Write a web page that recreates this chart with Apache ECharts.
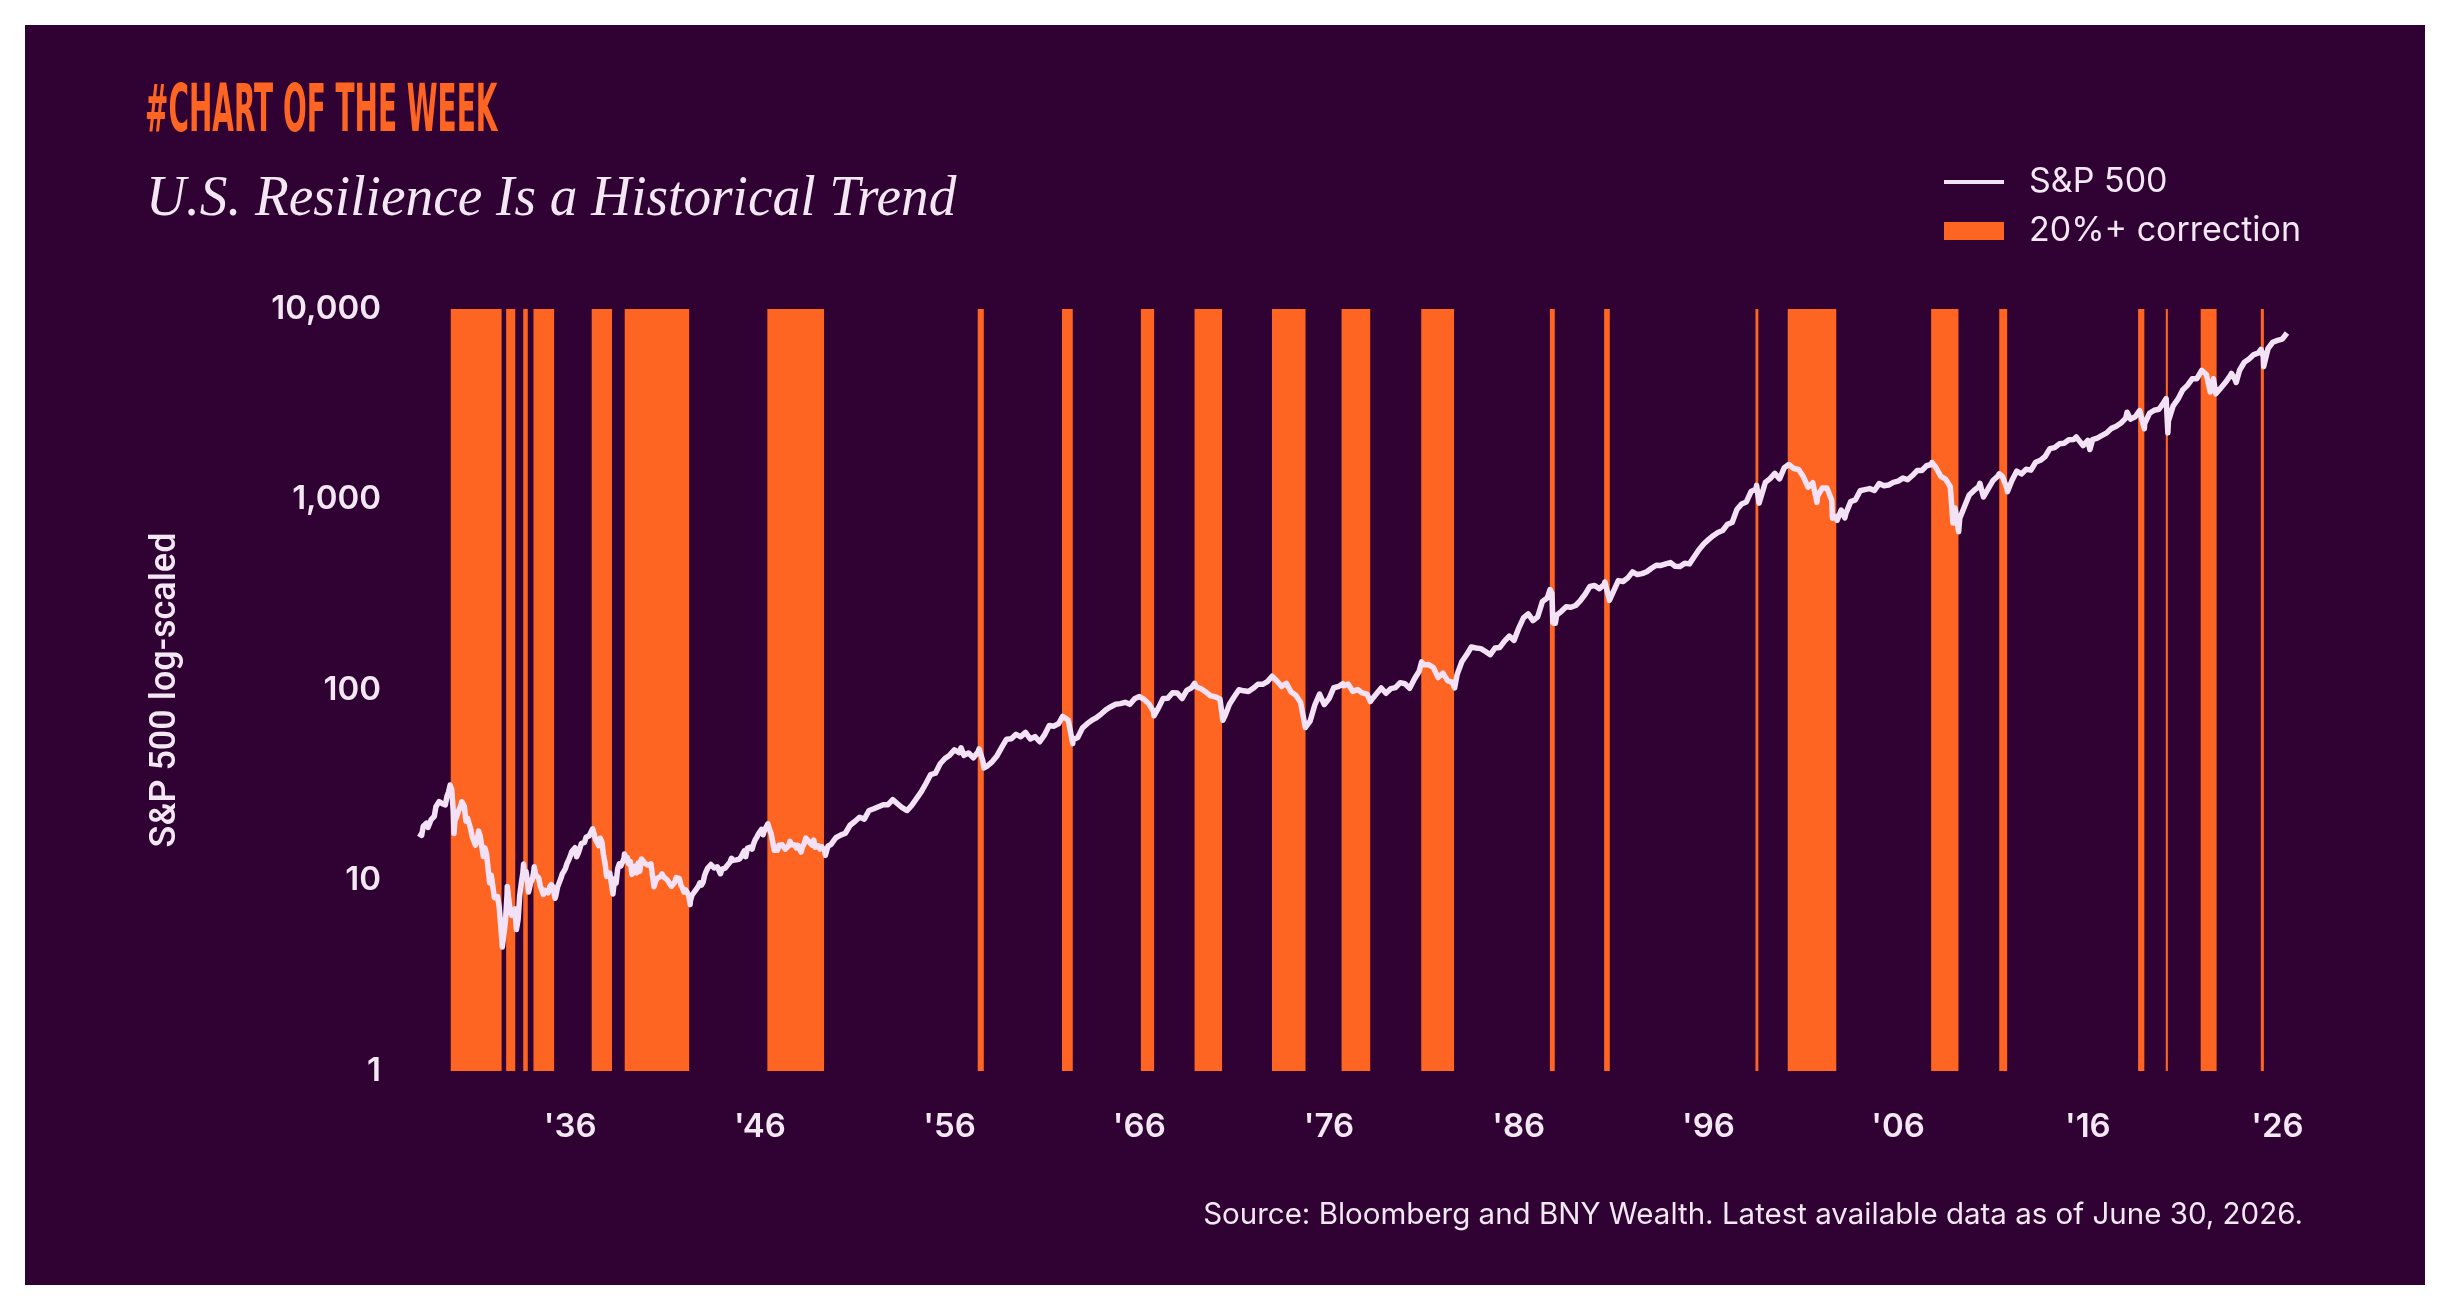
<!DOCTYPE html>
<html>
<head>
<meta charset="utf-8">
<title>U.S. Resilience Is a Historical Trend</title>
<script src="https://cdn.jsdelivr.net/npm/echarts@6/dist/echarts.min.js"></script>
<style>
  html, body { margin: 0; padding: 0; background: #ffffff; }
  #chart { position: absolute; left: 25px; top: 25px; width: 2400px; height: 1260px; }
</style>
</head>
<body>
<div id="chart"></div>
<script>
// S&P 500 level, first close (end of Dec 1927)
const spxStart = [1928.0, 17.66];

// month-end closes, Jan 1928 .. Dec 1938
const spxMonthly1928to1938 = [
  17.57, 17.26, 19.28, 19.75, 20.00, 19.00, 19.40, 20.88, 21.21, 21.74, 24.37, 24.35,
  25.94, 25.72, 25.33, 25.90, 24.96, 27.70, 29.17, 31.71, 30.00, 23.02, 20.60, 21.45,
  22.83, 23.25, 25.14, 25.46, 24.49, 20.46, 21.21, 21.00, 18.63, 16.91, 16.62, 15.34,
  16.14, 18.17, 17.16, 15.09, 13.35, 14.83, 13.84, 13.88, 9.71, 10.66, 9.30, 8.12,
  8.30, 8.23, 7.31, 5.83, 4.47, 4.43, 6.10, 8.39, 8.08, 6.92, 6.56, 6.89,
  7.09, 5.66, 6.23, 8.32, 9.64, 10.91, 10.39, 11.15, 9.83, 8.96, 9.78, 10.10,
  11.32, 10.74, 10.67, 10.32, 9.37, 9.47, 8.44, 8.88, 8.85, 8.61, 9.25, 9.50,
  9.26, 9.07, 8.41, 9.27, 9.37, 10.23, 10.86, 11.18, 11.61, 12.33, 12.80, 13.43,
  14.21, 14.55, 14.86, 13.31, 13.88, 14.68, 15.63, 15.77, 15.85, 16.86, 17.04, 17.18,
  17.87, 18.10, 17.64, 16.36, 16.11, 15.23, 16.66, 15.90, 13.62, 12.34, 10.50, 10.55,
  10.94, 11.15, 8.50, 10.20, 9.69, 11.56, 12.24, 11.92, 12.07, 13.07, 12.72, 13.21
];

// month-end closes, Jan 1939 .. Dec 1949
const spxMonthly1939to1949 = [
  12.22, 12.59, 10.77, 11.12, 11.88, 10.96, 12.35, 11.19, 12.98, 12.91, 12.35, 12.49,
  12.05, 12.22, 12.22, 12.29, 9.27, 9.94, 10.27, 10.41, 10.49, 10.84, 10.45, 10.58,
  10.14, 9.89, 9.95, 9.32, 9.37, 9.76, 10.37, 10.33, 10.24, 9.45, 9.12, 8.69,
  8.93, 8.65, 8.27, 7.84, 8.37, 8.60, 8.83, 8.90, 9.31, 9.73, 9.47, 9.77,
  10.64, 11.18, 11.63, 11.57, 12.14, 12.33, 11.63, 11.71, 11.81, 11.68, 10.85, 11.48,
  11.68, 11.62, 11.91, 11.70, 12.46, 13.09, 12.75, 12.86, 12.83, 12.88, 12.96, 13.28,
  13.49, 14.30, 13.34, 14.74, 14.92, 14.98, 14.61, 15.59, 16.37, 16.87, 17.55, 17.36,
  18.56, 17.38, 18.47, 19.11, 19.85, 18.59, 17.69, 16.09, 14.43, 14.33, 14.40, 15.30,
  15.66, 15.41, 15.17, 14.60, 14.51, 15.21, 16.05, 15.40, 15.07, 15.35, 14.85, 15.30,
  14.63, 14.10, 15.11, 15.63, 16.71, 16.70, 16.01, 16.01, 15.31, 16.31, 14.97, 15.20,
  15.20, 14.62, 15.06, 14.73, 14.29, 14.15, 15.14, 15.27, 15.49, 15.90, 16.32, 16.76
];

// quarter-end closes, Q1 1950 .. Q4 1987
const spxQuarterly1950to1987 = [
  17.3, 17.7, 19.5, 20.4,   21.5, 21.0, 23.3, 23.8,   24.4, 25.0, 25.0, 26.6,
  25.3, 24.1, 23.3, 24.8,   26.9, 29.2, 32.3, 36.0,   36.6, 41.0, 43.7, 45.5,
  48.5, 46.9, 45.4, 46.7,   44.1, 47.4, 42.4, 40.0,   42.1, 45.2, 50.1, 55.2,
  55.4, 58.5, 56.9, 59.9,   55.3, 56.9, 53.5, 58.1,   65.1, 64.6, 66.7, 71.6,
  69.6, 54.8, 56.3, 63.1,   66.6, 69.4, 71.7, 75.0,   78.9, 81.7, 84.2, 84.8,
  86.2, 84.1, 90.0, 92.4,   89.2, 84.7, 77.0, 80.3,   90.2, 90.6, 96.7, 96.5,
  90.2, 99.6, 102.7, 103.9, 101.5, 97.7, 93.1, 92.1,  89.6, 72.7, 84.2, 92.2,
  100.3, 99.0, 98.3, 102.1, 107.2, 107.1, 110.6, 118.1, 111.5, 104.3, 108.4, 97.6,
  93.9, 86.0, 63.5, 68.6,   83.4, 95.2, 83.9, 90.2,   102.8, 104.3, 105.2, 107.5,
  98.4, 100.5, 96.5, 95.1,  89.2, 95.5, 102.5, 96.1,  101.6, 102.9, 109.3, 107.9,
  102.1, 114.2, 125.5, 135.8, 136.0, 131.2, 116.2, 122.6, 112.0, 109.6, 120.4, 140.6,
  153.0, 168.1, 166.1, 164.9, 159.2, 153.2, 166.1, 167.2, 180.7, 191.9, 182.1, 211.3,
  238.9, 250.8, 231.3, 242.2, 291.7, 304.0, 321.8, 247.1
];

// quarter-end closes, Q1 1988 .. Q2 2026
const spxQuarterly1988to2026 = [
  258.9, 273.5, 271.9, 277.7,   294.9, 318.0, 349.2, 353.4,   339.9, 358.0, 306.1, 330.2,
  375.2, 371.2, 387.9, 417.1,   403.7, 408.1, 417.8, 435.7,   451.7, 450.5, 458.9, 466.5,
  445.8, 444.3, 462.7, 459.3,   500.7, 544.8, 584.4, 615.9,   645.5, 670.6, 687.3, 740.7,
  757.1, 885.1, 947.3, 970.4,   1101.8, 1133.8, 1017.0, 1229.2, 1286.4, 1372.7, 1282.7, 1469.3,
  1498.6, 1454.6, 1436.5, 1320.3, 1160.3, 1224.4, 1040.9, 1148.1, 1147.4, 989.8, 815.3, 879.8,
  848.2, 974.5, 996.0, 1111.9,  1126.2, 1140.8, 1114.6, 1211.9, 1180.6, 1191.3, 1228.8, 1248.3,
  1294.8, 1270.2, 1335.9, 1418.3, 1420.9, 1503.4, 1526.8, 1468.4, 1322.7, 1280.0, 1166.4, 903.3,
  797.9, 919.3, 1057.1, 1115.1, 1169.4, 1030.7, 1141.2, 1257.6, 1325.8, 1320.6, 1131.4, 1257.6,
  1408.5, 1362.2, 1440.7, 1426.2, 1569.2, 1606.3, 1681.6, 1848.4, 1872.3, 1960.2, 1972.3, 2058.9,
  2067.9, 2063.1, 1920.0, 2043.9, 2059.7, 2098.9, 2168.3, 2238.8, 2362.7, 2423.4, 2519.4, 2673.6,
  2640.9, 2718.4, 2914.0, 2506.9, 2834.4, 2941.8, 2976.7, 3230.8, 2584.6, 3100.3, 3363.0, 3756.1,
  3972.9, 4297.5, 4307.5, 4766.2, 4530.4, 3785.4, 3585.6, 3839.5, 4109.3, 4450.4, 4288.1, 4769.8,
  5254.4, 5460.5, 5762.5, 5881.6, 5611.9, 6205.0, 6688.5, 6845.5, 6950.0, 7480.0
];

// peaks and troughs between the regular points [year, level]
const spxTurningPoints = [
  [1929.68, 31.86], [1929.87, 17.66], [1930.28, 25.92], [1932.42, 4.40], [1932.68, 9.31],
  [1933.16, 5.53], [1933.54, 12.20], [1933.80, 8.70], [1934.10, 11.82], [1935.20, 8.06],
  [1937.18, 18.68], [1938.86, 13.79], [1942.32, 7.47], [1946.41, 19.25], [1949.45, 13.55],
  [1956.60, 49.74], [1957.55, 49.13], [1957.81, 38.98], [1961.95, 72.64], [1962.49, 52.32],
  [1966.10, 94.06], [1966.77, 73.20], [1968.91, 108.37], [1970.40, 69.29], [1973.03, 120.24],
  [1974.76, 62.28], [1976.72, 107.83], [1978.18, 86.90], [1980.88, 140.52], [1982.62, 102.42],
  [1987.65, 336.77], [1987.80, 224.84], [1987.93, 223.92], [1990.54, 368.95], [1990.78, 295.46],
  [1998.54, 1186.75], [1998.67, 957.28], [2000.23, 1527.46], [2001.72, 965.80], [2002.54, 797.70],
  [2002.78, 776.76], [2003.19, 800.73], [2007.78, 1565.15], [2008.89, 752.44], [2009.19, 676.53],
  [2010.31, 1217.28], [2010.51, 1022.58], [2011.33, 1363.61], [2011.76, 1099.23], [2015.39, 2130.82],
  [2016.11, 1829.08], [2018.07, 2872.87], [2018.73, 2930.75], [2018.98, 2351.10], [2020.13, 3386.15],
  [2020.22, 2237.40], [2022.01, 4796.56], [2022.45, 3666.77], [2022.62, 4305.20], [2022.78, 3577.03],
  [2023.57, 4588.96], [2023.82, 4117.37], [2025.13, 6144.15], [2025.27, 4982.77], [2026.35, 7050.0]
];

// 20%+ corrections [start year, end year]
const corrections = [
  [1929.70, 1932.38], [1932.62, 1933.10], [1933.52, 1933.76], [1934.06, 1935.15],
  [1937.13, 1938.20], [1938.87, 1942.27], [1946.39, 1949.38], [1957.48, 1957.80],
  [1961.92, 1962.49], [1966.08, 1966.78], [1968.91, 1970.36], [1972.99, 1974.76],
  [1976.66, 1978.17], [1980.86, 1982.59], [1987.64, 1987.90], [1990.50, 1990.80],
  [1998.48, 1998.63], [2000.18, 2002.74], [2007.74, 2009.18], [2011.33, 2011.75],
  [2018.65, 2018.98], [2020.11, 2020.22], [2021.95, 2022.79], [2025.12, 2025.28]
];

const xTickYears = [1936, 1946, 1956, 1966, 1976, 1986, 1996, 2006, 2016, 2026];
const yTickValues = [1, 10, 100, 1000, 10000];

const BG = '#2F0233';
const ORANGE = '#FF6522';
const LINE = '#F3E2F5';
const TEXT = '#F2E7F2';
const SANS = "Inter, 'Noto Sans', sans-serif";

const spxPoints = [spxStart];
spxMonthly1928to1938.forEach((v, i) => spxPoints.push([1928 + (i + 1) / 12, v]));
spxMonthly1939to1949.forEach((v, i) => spxPoints.push([1939 + (i + 1) / 12, v]));
spxQuarterly1950to1987.forEach((v, i) => spxPoints.push([1950 + (i + 1) / 4, v]));
spxQuarterly1988to2026.forEach((v, i) => spxPoints.push([1988 + (i + 1) / 4, v]));
spxTurningPoints.forEach(p => spxPoints.push(p));
spxPoints.sort((a, b) => a[0] - b[0]);

const bandData = corrections.map(c => [c[0], c[1], 1, 10000]);

const chart = echarts.init(document.getElementById('chart'));

chart.setOption({
  animation: false,
  backgroundColor: BG,
  textStyle: { fontFamily: SANS },
  grid: { left: 392, top: 284, width: 1870, height: 762, containLabel: false },
  legend: [
    {
      data: [{ name: 'S&P 500', icon: 'rect' }],
      left: 1919, top: 140, padding: 0,
      itemWidth: 60, itemHeight: 4,
      textStyle: { color: TEXT, fontSize: 34, fontFamily: SANS, padding: [0, 0, 0, 20] }
    },
    {
      data: [{ name: '20%+ correction', icon: 'rect' }],
      left: 1919, top: 189, padding: 0,
      itemWidth: 60, itemHeight: 18,
      textStyle: { color: TEXT, fontSize: 34, fontFamily: SANS, padding: [0, 0, 0, 20] }
    }
  ],
  xAxis: {
    type: 'value',
    min: 1927.92,
    max: 2026.5,
    axisLine: { show: false },
    axisTick: { show: false },
    splitLine: { show: false },
    axisLabel: {
      customValues: xTickYears,
      formatter: v => "'" + String(v).slice(2),
      color: TEXT, fontSize: 33, fontWeight: 600, fontFamily: SANS, margin: 40
    }
  },
  yAxis: {
    type: 'log',
    logBase: 10,
    min: 1,
    max: 10000,
    axisLine: { show: false },
    axisTick: { show: false },
    splitLine: { show: false },
    axisLabel: {
      customValues: yTickValues,
      formatter: v => Number(v).toLocaleString('en-US'),
      color: TEXT, fontSize: 33, fontWeight: 600, fontFamily: SANS, margin: 36
    }
  },
  series: [
    {
      name: '20%+ correction',
      type: 'custom',
      z: 1,
      itemStyle: { color: ORANGE },
      encode: { x: [0, 1], y: [2, 3] },
      data: bandData,
      renderItem: (params, api) => {
        const p0 = api.coord([api.value(0), api.value(3)]);
        const p1 = api.coord([api.value(1), api.value(2)]);
        return {
          type: 'rect',
          shape: { x: p0[0], y: p0[1], width: Math.max(p1[0] - p0[0], 1.5), height: p1[1] - p0[1] },
          style: { fill: ORANGE }
        };
      }
    },
    {
      name: 'S&P 500',
      type: 'line',
      z: 5,
      data: spxPoints,
      showSymbol: false,
      symbol: 'none',
      itemStyle: { color: LINE },
      lineStyle: { color: LINE, width: 5.5, join: 'round' }
    }
  ],
  graphic: [
    {
      type: 'text', x: 120, y: 89, scaleX: 0.478,
      style: {
        text: '#CHART OF THE WEEK', x: 0, y: 0, verticalAlign: 'middle',
        fontSize: 65, fontWeight: 'bold',
        fontFamily: "'Liberation Sans Narrow', 'DejaVu Sans Condensed', sans-serif",
        fill: ORANGE
      }
    },
    {
      type: 'text', x: 121, y: 175, scaleX: 0.97,
      style: {
        text: 'U.S. Resilience Is a Historical Trend', x: 0, y: 0, verticalAlign: 'middle',
        fontSize: 57, fontStyle: 'italic', fontFamily: "'Liberation Serif', serif",
        fill: TEXT
      }
    },
    {
      type: 'text', x: 141, y: 665, rotation: Math.PI / 2,
      style: {
        text: 'S&P 500 log-scaled', x: 0, y: 0, align: 'center', verticalAlign: 'middle',
        fontSize: 36, fontWeight: 500, fontFamily: "Roboto, sans-serif", fill: TEXT
      }
    },
    {
      type: 'text', x: 2278, y: 1190,
      style: {
        text: 'Source: Bloomberg and BNY Wealth. Latest available data as of June 30, 2026.',
        x: 0, y: 0, align: 'right', verticalAlign: 'middle',
        fontSize: 29.5, fontFamily: SANS, fill: TEXT
      }
    }
  ]
});
</script>
</body>
</html>
